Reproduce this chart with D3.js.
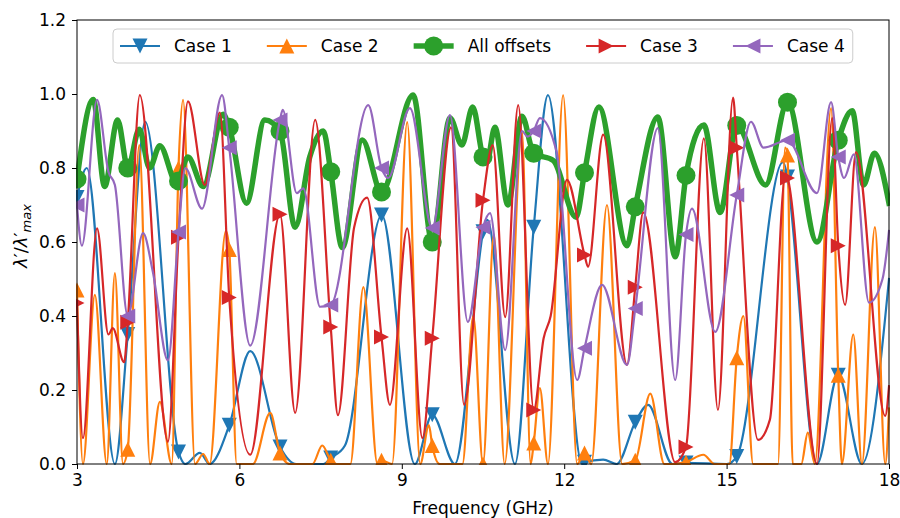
<!DOCTYPE html>
<html>
<head>
<meta charset="utf-8">
<title>Normalized eigenvalue vs frequency</title>
<script src="https://d3js.org/d3.v7.min.js"></script>
<style>
  body { margin: 0; background: #fff; }
  text { font-family: "DejaVu Sans", sans-serif; fill: #000; }
</style>
</head>
<body>
<div id="chart"></div>
<script>
// tick labels
const xTicks = [3, 6, 9, 12, 15, 18];
const yTicks = [0, 0.2, 0.4, 0.6, 0.8, 1.0, 1.2];

// frequencies where markers sit (every 16th sample)
const markerFreqs = [3, 3.9375, 4.875, 5.8125, 6.75, 7.6875, 8.625, 9.5625, 10.5,
  11.4375, 12.375, 13.3125, 14.25, 15.1875, 16.125, 17.0625];

// [frequency GHz, normalized value]
const case1 = [[3.0,0.72],[3.18,0.80],[3.70,0.0],[3.9375,0.35],[4.26,0.925],[4.88,0.03],[5.0,0.0],
  [5.27,0.03],[5.45,0.0],[5.8125,0.105],[6.20,0.305],[6.75,0.046],[7.05,0.0],[7.55,0.0],[7.6875,0.016],
  [7.95,0.05],[8.63,0.673],[9.24,0.0],[9.5625,0.133],[9.98,0.0],[10.58,0.66],[11.09,0.0],[11.4375,0.64],
  [11.70,0.997],[12.33,0.0],[12.375,0.005],[12.72,0.012],[12.97,0.0],[13.3125,0.113],[13.55,0.16],
  [14.0,0.0],[14.25,0.003],[15.0,0.0],[15.1875,0.02],[16.04,0.816],[16.67,0.0],[17.06,0.24],[17.5,0.0],
  [18.0,0.50]];

const case2 = [[3.0,0.47],[3.11,0.0],[3.33,0.457],[3.55,0.0],[3.70,0.516],[3.85,0.0],[3.9375,0.04],
  [4.15,0.862],[4.35,0.0],[4.53,0.168],[4.75,0.0],[4.875,0.80],[4.96,0.984],[5.18,0.0],[5.33,0.027],
  [5.45,0.0],[5.75,0.63],[5.8125,0.58],[5.95,0.0],[6.25,0.0],[6.57,0.138],[6.75,0.03],[6.93,0.0],
  [7.35,0.0],[7.53,0.05],[7.6875,0.01],[7.80,0.0],[8.05,0.0],[8.29,0.478],[8.55,0.0],[8.625,0.01],
  [8.82,0.0],[9.10,0.924],[9.34,0.0],[9.50,0.105],[9.5625,0.05],[9.70,0.0],[10.12,0.0],[10.32,0.40],
  [10.50,0.0],[10.70,0.62],[10.90,0.0],[11.22,0.90],[11.38,0.0],[11.4375,0.057],[11.55,0.205],
  [11.70,0.0],[11.98,0.997],[12.24,0.0],[12.375,0.03],[12.50,0.0],[12.79,0.70],[13.07,0.0],
  [13.3125,0.01],[13.59,0.19],[13.85,0.0],[14.0,0.0],[14.25,0.005],[14.57,0.025],[14.78,0.0],
  [15.05,0.0],[15.1875,0.287],[15.31,0.40],[15.49,0.0],[15.95,0.0],[16.08,0.855],[16.125,0.835],
  [16.22,0.0],[16.38,0.0],[16.50,0.085],[16.63,0.0],[16.93,0.962],[17.0625,0.24],[17.13,0.0],
  [17.34,0.35],[17.50,0.0],[17.74,0.64],[17.93,0.0],[18.0,0.15]];

const allOffsets = [[3.0,0.77],[3.30,0.985],[3.51,0.75],[3.75,0.93],[3.94,0.80],[4.15,0.905],[4.34,0.80],
  [4.53,0.86],[4.84,0.76],[5.05,0.83],[5.33,0.75],[5.70,0.945],[5.8125,0.91],[6.13,0.705],[6.47,0.93],
  [6.75,0.90],[7.03,0.64],[7.30,0.83],[7.55,0.90],[7.6875,0.79],[7.90,0.585],[8.27,0.876],[8.625,0.735],
  [9.21,0.997],[9.5625,0.60],[9.89,0.935],[10.11,0.862],[10.31,0.965],[10.50,0.83],[10.57,0.815],
  [10.72,0.91],[10.96,0.70],[11.22,0.94],[11.4375,0.84],[11.80,0.82],[12.22,0.667],[12.375,0.787],
  [12.64,0.965],[13.16,0.59],[13.3125,0.695],[13.73,0.938],[14.05,0.56],[14.25,0.78],[14.58,0.916],
  [14.88,0.68],[15.1875,0.915],[15.72,0.754],[16.125,0.978],[16.67,0.60],[17.0625,0.875],[17.32,0.955],
  [17.53,0.754],[17.73,0.84],[18.0,0.705]];

const case3 = [[3.0,0.435],[3.11,0.07],[3.37,0.637],[3.58,0.35],[3.66,0.367],[3.87,0.275],[3.9375,0.383],
  [4.16,0.997],[4.68,0.06],[4.875,0.613],[5.05,0.98],[5.36,0.754],[5.64,0.95],[5.8125,0.45],[6.20,0.025],
  [6.75,0.675],[7.03,0.138],[7.40,0.93],[7.6875,0.37],[7.82,0.132],[8.12,0.64],[8.36,0.72],[8.625,0.343],
  [8.78,0.16],[9.10,0.637],[9.38,0.07],[9.5625,0.34],[9.91,0.91],[10.15,0.16],[10.50,0.713],[10.68,0.862],
  [10.91,0.397],[11.15,0.97],[11.4375,0.146],[11.62,0.34],[11.75,0.40],[12.05,0.768],[12.375,0.565],
  [12.44,0.533],[12.72,0.89],[13.16,0.268],[13.3125,0.478],[13.46,0.68],[14.05,0.005],[14.25,0.046],
  [14.58,0.88],[14.84,0.146],[15.12,0.99],[15.1875,0.855],[15.58,0.065],[15.80,0.12],[16.09,0.785],
  [16.125,0.773],[16.67,0.0],[16.95,0.935],[17.0625,0.59],[17.19,0.43],[17.39,0.843],[17.93,0.13],
  [18.0,0.21]];

const case4 = [[3.0,0.70],[3.09,0.59],[3.37,0.984],[3.58,0.79],[3.70,0.754],[3.9375,0.40],[4.22,0.624],
  [4.40,0.52],[4.68,0.28],[4.875,0.627],[5.0,0.80],[5.31,0.69],[5.68,0.997],[5.8125,0.855],[6.20,0.32],
  [6.75,0.93],[6.80,0.957],[7.06,0.732],[7.18,0.745],[7.49,0.425],[7.6875,0.43],[8.38,0.97],[8.625,0.80],
  [8.75,0.773],[9.15,0.962],[9.5625,0.638],[9.89,0.943],[10.22,0.384],[10.50,0.64],[10.63,0.678],
  [10.91,0.308],[11.22,0.90],[11.32,0.885],[11.4375,0.90],[11.55,0.935],[11.86,0.843],[12.24,0.227],
  [12.375,0.313],[12.70,0.484],[13.16,0.268],[13.3125,0.42],[13.73,0.908],[14.05,0.227],[14.25,0.62],
  [14.36,0.69],[14.79,0.357],[15.1875,0.727],[15.45,0.925],[15.68,0.855],[16.125,0.875],[16.67,0.732],
  [16.93,0.978],[17.0625,0.83],[17.17,0.773],[17.35,0.837],[17.63,0.436],[17.88,0.50],[18.0,0.63]];

const series = [
  {name: "Case 1", data: case1, color: "#1f77b4", lw: 2.2, marker: "down"},
  {name: "Case 2", data: case2, color: "#ff7f0e", lw: 2.2, marker: "up"},
  {name: "All offsets", data: allOffsets, color: "#2ca02c", lw: 5.5, marker: "circle"},
  {name: "Case 3", data: case3, color: "#d62728", lw: 2.2, marker: "right"},
  {name: "Case 4", data: case4, color: "#9467bd", lw: 2.2, marker: "left"}
];

// set the dimensions and margins of the graph
const margin = {top: 20, right: 11, bottom: 54, left: 77},
    width = 900 - margin.left - margin.right,
    height = 518 - margin.top - margin.bottom;

const svgRoot = d3.select("#chart").append("svg")
    .attr("width", 900).attr("height", 518);
const svg = svgRoot.append("g")
    .attr("transform", `translate(${margin.left},${margin.top})`);

const x = d3.scaleLinear().domain([3, 18]).range([0, width]);
const y = d3.scaleLinear().domain([0, 1.2]).range([height, 0]);

svgRoot.append("defs").append("clipPath").attr("id", "plotclip")
  .append("rect").attr("x", -1).attr("y", -1).attr("width", width + 2).attr("height", height + 2);

// marker shapes, matplotlib style (width = height)
const s = 7.5;
const shapes = {
  down: `M0,${s}L${-s},${-s}L${s},${-s}Z`,
  up: `M0,${-s}L${-s},${s}L${s},${s}Z`,
  right: `M${s},0L${-s},${-s}L${-s},${s}Z`,
  left: `M${-s},0L${s},${-s}L${s},${s}Z`
};
function drawMarker(g, kind, color, px, py) {
  if (kind === "circle") {
    g.append("circle").attr("cx", px).attr("cy", py).attr("r", 9.5).attr("fill", color);
  } else {
    g.append("path").attr("d", shapes[kind]).attr("transform", `translate(${px},${py})`).attr("fill", color);
  }
}

// find the y of the drawn curve at a given x
function pointOnPath(node, tx) {
  const L = node.getTotalLength();
  let lo = 0, hi = L;
  for (let i = 0; i < 32; i++) {
    const mid = (lo + hi) / 2;
    if (node.getPointAtLength(mid).x < tx) lo = mid; else hi = mid;
  }
  return node.getPointAtLength((lo + hi) / 2).y;
}

const line = d3.line()
    .x(d => x(d[0]))
    .y(d => y(d[1]))
    .curve(d3.curveMonotoneX);

const plot = svg.append("g").attr("clip-path", "url(#plotclip)");

series.forEach(sr => {
  const g = plot.append("g");
  const p = g.append("path")
      .datum(sr.data)
      .attr("d", line)
      .attr("fill", "none")
      .attr("stroke", sr.color)
      .attr("stroke-width", sr.lw)
      .attr("stroke-linejoin", "round")
      .attr("stroke-linecap", "square");
  markerFreqs.forEach(f => {
    const px = x(f);
    drawMarker(g, sr.marker, sr.color, px, pointOnPath(p.node(), px));
  });
});

// axes
const xAxis = svg.append("g")
    .attr("transform", `translate(0,${height})`)
    .call(d3.axisBottom(x).tickValues(xTicks).tickSize(5).tickPadding(5).tickFormat(d3.format("d")));
const yAxis = svg.append("g")
    .call(d3.axisLeft(y).tickValues(yTicks).tickSize(5).tickPadding(6).tickFormat(d3.format(".1f")));
[xAxis, yAxis].forEach(a => {
  a.select(".domain").remove();
  a.selectAll("text").style("font-size", "17px").style("font-family", "'DejaVu Sans', sans-serif");
  a.selectAll("line").attr("stroke", "#000").attr("stroke-width", 1);
});

// frame
svg.append("rect")
    .attr("x", 0).attr("y", 0).attr("width", width).attr("height", height)
    .attr("fill", "none").attr("stroke", "#000").attr("stroke-width", 1);

// axis labels
svgRoot.append("text")
    .attr("x", margin.left + width / 2).attr("y", 514)
    .attr("text-anchor", "middle")
    .style("font-size", "17px")
    .text("Frequency (GHz)");

const yl = svgRoot.append("text")
    .attr("transform", "translate(27,236) rotate(-90)")
    .attr("text-anchor", "middle")
    .style("font-size", "18px");
yl.append("tspan").style("font-style", "italic").text("λ");
yl.append("tspan").text("′/");
yl.append("tspan").style("font-style", "italic").text("λ");
yl.append("tspan").text("′");
yl.append("tspan").attr("dy", 4).style("font-size", "13px").style("font-style", "italic").text("max");

// legend
const leg = svgRoot.append("g");
const legBox = leg.append("rect")
    .attr("x", 113).attr("y", 29).attr("height", 34).attr("rx", 4)
    .attr("fill", "#fff").attr("fill-opacity", 0.8)
    .attr("stroke", "#cccccc").attr("stroke-width", 1);
let lx = 120;
const ly = 46;
series.forEach(sr => {
  leg.append("line")
      .attr("x1", lx).attr("x2", lx + 40).attr("y1", ly).attr("y2", ly)
      .attr("stroke", sr.color).attr("stroke-width", sr.lw);
  drawMarker(leg, sr.marker, sr.color, lx + 20, ly);
  const t = leg.append("text")
      .attr("x", lx + 54).attr("y", ly + 6)
      .style("font-size", "17px")
      .text(sr.name);
  lx = lx + 54 + t.node().getComputedTextLength() + 35;
});
legBox.attr("width", lx - 35 + 8 - 113);
</script>
</body>
</html>
